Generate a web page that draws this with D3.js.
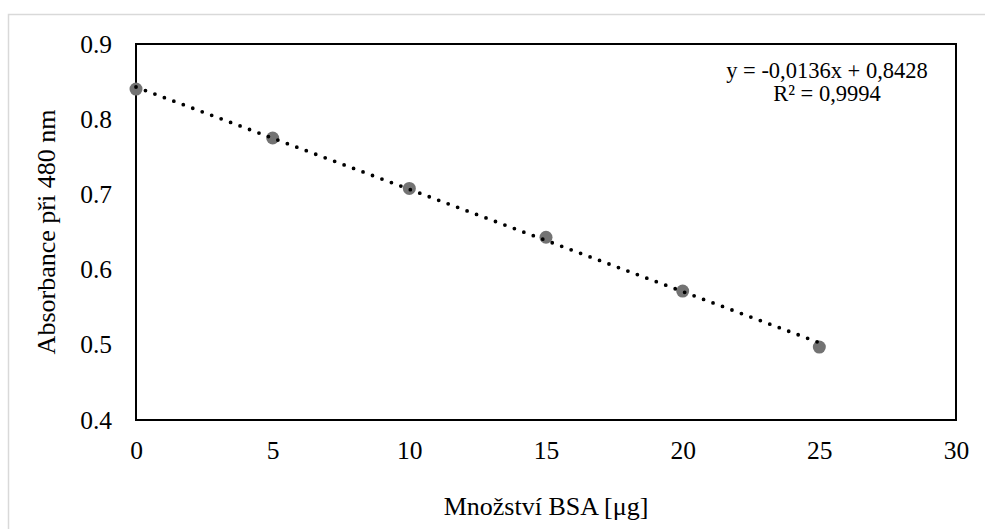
<!DOCTYPE html>
<html><head><meta charset="utf-8">
<script src="https://cdn.jsdelivr.net/npm/d3@7"></script>
<style>html,body{margin:0;padding:0;background:#fff;}svg{display:block;}
svg text{font-family:"Liberation Serif","Times New Roman",Tinos,"Noto Serif","DejaVu Serif",serif !important;}</style>
</head><body>
<svg id="chart" width="985" height="529"></svg>
<script>
const xValues = [0, 5, 10, 15, 20, 25];
const absorbance = [0.840, 0.775, 0.708, 0.643, 0.5715, 0.497];
const xTicks = [0, 5, 10, 15, 20, 25, 30];
const yTicks = [0.4, 0.5, 0.6, 0.7, 0.8, 0.9];
const slope = -0.0136, intercept = 0.8428;
const equationLines = ["y = -0,0136x + 0,8428", "R² = 0,9994"];
const xTitle = "Množství BSA [μg]";
const yTitle = "Absorbance při 480 nm";

const svg = d3.select("#chart");
const m = {left: 136, top: 44, right: 956, bottom: 420};
const x = d3.scaleLinear().domain([0, 30]).range([m.left, m.right]);
const y = d3.scaleLinear().domain([0.4, 0.9]).range([m.bottom, m.top]);

svg.append("rect").attr("x", 8.5).attr("y", 14.5).attr("width", 1000).attr("height", 600)
  .attr("fill", "#fff").attr("stroke", "#d9d9d9").attr("stroke-width", 1.5);

svg.append("rect").attr("x", m.left).attr("y", m.top)
  .attr("width", m.right - m.left).attr("height", m.bottom - m.top)
  .attr("fill", "none").attr("stroke", "#000").attr("stroke-width", 2);

const xAxis = svg.append("g").attr("transform", `translate(0,${m.bottom})`)
  .call(d3.axisBottom(x).tickValues(xTicks).tickFormat(d3.format("d")).tickSize(0).tickPadding(21));
const yAxis = svg.append("g").attr("transform", `translate(${m.left},0)`)
  .call(d3.axisLeft(y).tickValues(yTicks).tickFormat(d3.format(".1f")).tickSize(0).tickPadding(24));
[xAxis, yAxis].forEach(g => {
  g.select(".domain").remove();
  g.attr("font-size", null).attr("font-family", null);
  g.selectAll("text").attr("font-size", 25.5).attr("fill", "#000");
});

svg.append("g").selectAll("circle").data(xValues).join("circle")
  .attr("cx", d => x(d)).attr("cy", (d, i) => y(absorbance[i])).attr("r", 6.5)
  .attr("fill", "#737373");

const tl = [0, 25];
svg.append("line")
  .attr("x1", x(tl[0])).attr("y1", y(slope * tl[0] + intercept))
  .attr("x2", x(tl[1])).attr("y2", y(slope * tl[1] + intercept))
  .attr("stroke", "#000").attr("stroke-width", 3.8)
  .attr("stroke-linecap", "round").attr("stroke-dasharray", "0 10.1");

const eq = svg.append("text").attr("font-size", 22.5)
  .attr("text-anchor", "middle").attr("fill", "#000");
equationLines.forEach((t, i) => eq.append("tspan").attr("x", 827).attr("y", 78 + i * 23).text(t));

svg.append("text").attr("x", (m.left + m.right) / 2).attr("y", 515)
  .attr("text-anchor", "middle").attr("font-size", 26).text(xTitle);
svg.append("text").attr("transform", `translate(55,${(m.top + m.bottom) / 2}) rotate(-90)`)
  .attr("text-anchor", "middle").attr("font-size", 26).text(yTitle);
</script>
</body></html>
